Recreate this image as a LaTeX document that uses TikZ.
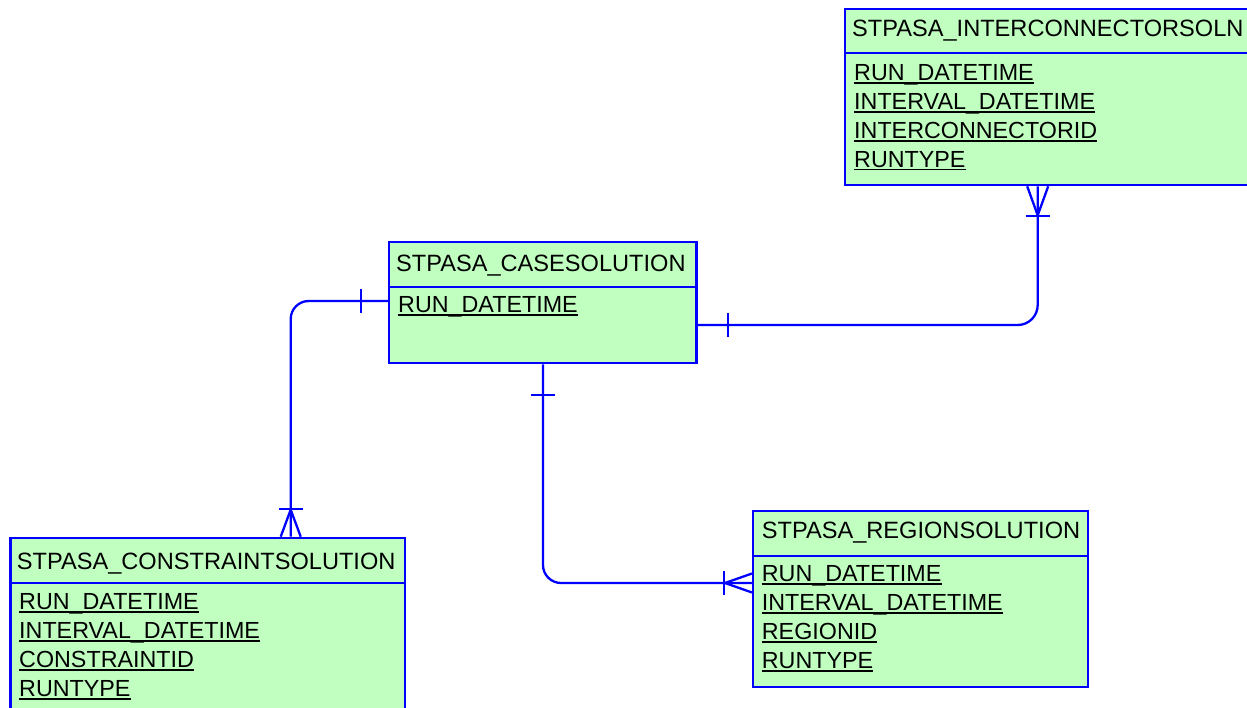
\documentclass[tikz,border=0pt]{standalone}
\usepackage{fontspec}
\setmainfont{Liberation Sans}
\definecolor{tblfill}{RGB}{192,255,192}
\definecolor{tblline}{RGB}{0,0,255}
\tikzset{
 tbl/.style={draw=tblline, line width=2.3pt, fill=tblfill, rectangle, inner sep=0pt, anchor=north west},
 divider/.style={draw=tblline, line width=2.3pt},
 conn/.style={draw=tblline, line width=2.3pt},
 hdr/.style={anchor=base west, inner sep=0pt, font=\fontsize{23.6}{28}\selectfont},
 fld/.style={anchor=base west, inner sep=0pt, font=\fontsize{23.3}{28}\selectfont},
 uline/.style={draw=black, line width=1.5pt},
}
\newcommand\fieldtxt[3]{\node[fld] (#1) at (#2) {#3};
  \draw[uline] ([yshift=-2.5pt]#1.base west) -- ([yshift=-2.5pt]#1.base east);}
\begin{document}
\begin{tikzpicture}[x=1pt,y=-1pt]
\useasboundingbox (0,0) rectangle (1247,708);
% tables
\node[tbl, minimum width=405pt, minimum height=176pt] (ic) at (844,8) {};
\node[tbl, minimum width=307.3pt, minimum height=121.3pt] (cs) at (388,240.7) {};
\node[tbl, minimum width=394.7pt, minimum height=190pt] (co) at (9.3,536.7) {};
\node[tbl, minimum width=335pt, minimum height=176pt] (rg) at (752,510) {};
% dividers
\coordinate (dic) at (0,53);
\coordinate (dcs) at (0,287);
\coordinate (dco) at (0,582.7);
\coordinate (drg) at (0,556);
\draw[divider] (ic.west |- dic) -- (ic.east |- dic);
\draw[divider] (cs.west |- dcs) -- (cs.east |- dcs);
\draw[divider] (co.west |- dco) -- (co.east |- dco);
\draw[divider] (rg.west |- drg) -- (rg.east |- drg);
% headers
\node[hdr] (ich) at (852,36.5) {STPASA\_INTERCONNECTORSOLN};
\node[hdr] (csh) at (396,271.5) {STPASA\_CASESOLUTION};
\node[hdr] (coh) at (16.7,569) {STPASA\_CONSTRAINTSOLUTION};
\node[hdr] (rgh) at (761.7,538.3) {STPASA\_REGIONSOLUTION};
% fields
\fieldtxt{icf1}{854,80.5}{RUN\_DATETIME}
\fieldtxt{icf2}{854,109.5}{INTERVAL\_DATETIME}
\fieldtxt{icf3}{854,138.4}{INTERCONNECTORID}
\fieldtxt{icf4}{854,167.2}{RUNTYPE}
\fieldtxt{csf1}{398,312.5}{RUN\_DATETIME}
\fieldtxt{cof1}{19,609.3}{RUN\_DATETIME}
\fieldtxt{cof2}{19,638.3}{INTERVAL\_DATETIME}
\fieldtxt{cof3}{19,667.7}{CONSTRAINTID}
\fieldtxt{cof4}{19,696.7}{RUNTYPE}
\fieldtxt{rgf1}{761.7,581.7}{RUN\_DATETIME}
\fieldtxt{rgf2}{761.7,610.3}{INTERVAL\_DATETIME}
\fieldtxt{rgf3}{761.7,639.3}{REGIONID}
\fieldtxt{rgf4}{761.7,668.3}{RUNTYPE}
% connector: casesolution -> interconnectorsoln
\coordinate (xic) at (1037.7,0);
\coordinate (y325) at (0,325);
\draw[conn, rounded corners=20pt] (cs.east |- y325) -- (y325 -| xic) -- (ic.south -| xic);
\draw[conn] (cs.east |- y325) ++(30.5,-12) -- ++(0,24);
\draw[conn] (ic.south -| xic) ++(-10.5,0) -- ++(10.5,29) -- ++(10.5,-29);
\draw[conn] (ic.south -| xic) ++(-12,30) -- ++(24,0);
% connector: casesolution -> constraintsolution
\coordinate (xco) at (290.7,0);
\coordinate (y301) at (0,301);
\draw[conn, rounded corners=18pt] (cs.west |- y301) -- (y301 -| xco) -- (co.north -| xco);
\draw[conn] (cs.west |- y301) ++(-27,-12) -- ++(0,24);
\draw[conn] (co.north -| xco) ++(-10,0) -- ++(10,-27) -- ++(10,27);
\draw[conn] (co.north -| xco) ++(-12,-28) -- ++(24,0);
% connector: casesolution -> regionsolution
\coordinate (xcs) at (543,0);
\coordinate (y583) at (0,583);
\draw[conn, rounded corners=18pt] (cs.south -| xcs) -- (xcs |- y583) -- (rg.west |- y583);
\draw[conn] (cs.south -| xcs) ++(-12,31) -- ++(24,0);
\draw[conn] (rg.west |- y583) ++(0,-9.5) -- ++(-27,9.5) -- ++(27,9.5);
\draw[conn] (rg.west |- y583) ++(-28,-12) -- ++(0,24);
\end{tikzpicture}
\end{document}
